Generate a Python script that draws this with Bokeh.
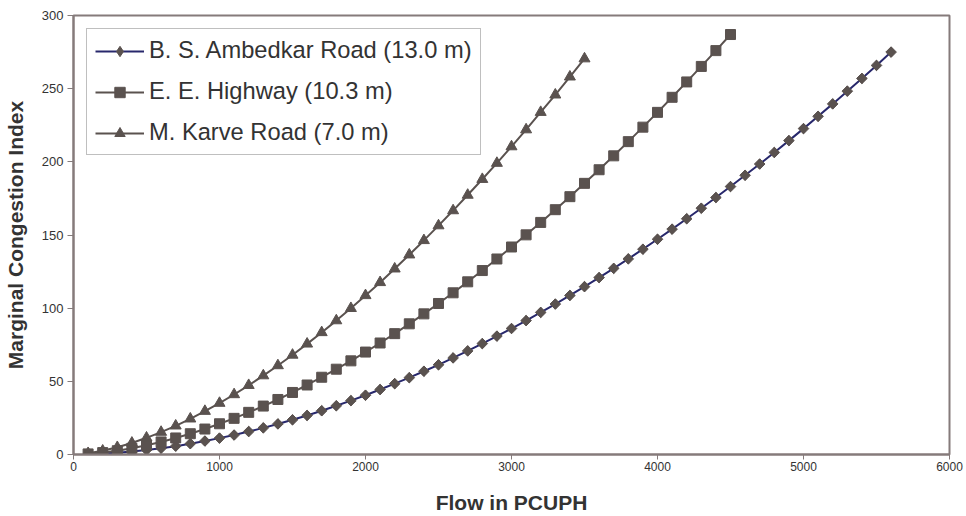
from bokeh.plotting import figure
from bokeh.models import Range1d, FixedTicker, Legend, LegendItem
from bokeh.embed import file_html
from bokeh.resources import INLINE

# ---- data ----
flow_ambedkar = [100, 200, 300, 400, 500, 600, 700, 800, 900, 1000,
                 1100, 1200, 1300, 1400, 1500, 1600, 1700, 1800, 1900, 2000,
                 2100, 2200, 2300, 2400, 2500, 2600, 2700, 2800, 2900, 3000,
                 3100, 3200, 3300, 3400, 3500, 3600, 3700, 3800, 3900, 4000,
                 4100, 4200, 4300, 4400, 4500, 4600, 4700, 4800, 4900, 5000,
                 5100, 5200, 5300, 5400, 5500, 5600]
mci_ambedkar = [0.2, 0.6, 1.2, 2.0, 3.1, 4.3, 5.7, 7.4, 9.2, 11.2,
                13.3, 15.7, 18.2, 20.9, 23.7, 26.7, 29.9, 33.3, 36.8, 40.5,
                44.4, 48.4, 52.5, 56.9, 61.3, 66.0, 70.8, 75.8, 80.9, 86.1,
                91.5, 97.1, 102.8, 108.7, 114.7, 120.9, 127.2, 133.7, 140.3, 147.1,
                154.0, 161.1, 168.3, 175.6, 183.1, 190.8, 198.5, 206.4, 214.5, 222.7,
                231.1, 239.6, 248.3, 257.0, 265.9, 275.0]

flow_highway = [100, 200, 300, 400, 500, 600, 700, 800, 900, 1000,
                1100, 1200, 1300, 1400, 1500, 1600, 1700, 1800, 1900, 2000,
                2100, 2200, 2300, 2400, 2500, 2600, 2700, 2800, 2900, 3000,
                3100, 3200, 3300, 3400, 3500, 3600, 3700, 3800, 3900, 4000,
                4100, 4200, 4300, 4400, 4500]
mci_highway = [0.4, 1.3, 2.6, 4.3, 6.3, 8.6, 11.3, 14.2, 17.4, 21.0,
               24.7, 28.8, 33.1, 37.6, 42.4, 47.5, 52.8, 58.3, 64.0, 70.0,
               76.2, 82.6, 89.3, 96.1, 103.2, 110.5, 118.0, 125.7, 133.6, 141.8,
               150.1, 158.6, 167.3, 176.2, 185.3, 194.6, 204.1, 213.8, 223.7, 233.8,
               244.1, 254.6, 265.2, 276.0, 287.0]

flow_karve = [100, 200, 300, 400, 500, 600, 700, 800, 900, 1000,
              1100, 1200, 1300, 1400, 1500, 1600, 1700, 1800, 1900, 2000,
              2100, 2200, 2300, 2400, 2500, 2600, 2700, 2800, 2900, 3000,
              3100, 3200, 3300, 3400, 3500]
mci_karve = [0.8, 2.5, 4.9, 7.9, 11.4, 15.3, 19.6, 24.4, 29.6, 35.1,
             41.0, 47.3, 53.9, 60.8, 68.0, 75.6, 83.4, 91.5, 99.9, 108.7,
             117.6, 126.9, 136.5, 146.3, 156.4, 166.7, 177.3, 188.1, 199.1, 210.4,
             222.0, 233.9, 245.8, 258.1, 270.5]

series_names = ["B. S. Ambedkar Road (13.0 m)", "E. E. Highway (10.3 m)", "M. Karve Road (7.0 m)"]
x_ticks = [0, 1000, 2000, 3000, 4000, 5000, 6000]
y_ticks = [0, 50, 100, 150, 200, 250, 300]

FONT = "Liberation Sans"
MARK = "#5a524f"
NAVY = "#28286c"
AXIS = "#857b7b"
TEXT = "#333333"

p = figure(width=966, height=516, output_backend="svg", toolbar_location=None,
           x_range=Range1d(0, 6000), y_range=Range1d(0, 300),
           min_border_left=72, min_border_right=17, min_border_top=15, min_border_bottom=62,
           background_fill_color="white", border_fill_color="white")

p.xgrid.visible = False
p.ygrid.visible = False
p.outline_line_color = AXIS
p.outline_line_width = 2

for ax, ticks, fs in ((p.xaxis[0], x_ticks, "12px"), (p.yaxis[0], y_ticks, "13px")):
    ax.ticker = FixedTicker(ticks=ticks)
    ax.axis_line_color = AXIS
    ax.axis_line_width = 2
    ax.major_tick_line_color = AXIS
    ax.major_tick_line_width = 1
    ax.major_tick_out = 5
    ax.major_tick_in = 0
    ax.minor_tick_line_color = None
    ax.major_label_text_font = FONT
    ax.major_label_text_font_size = fs
    ax.major_label_text_color = TEXT
    ax.axis_label_text_font = FONT
    ax.axis_label_text_font_size = "21px"
    ax.axis_label_text_font_style = "bold"
    ax.axis_label_text_color = TEXT

p.xaxis[0].axis_label = "Flow in PCUPH"
p.yaxis[0].axis_label = "Marginal Congestion Index"
p.xaxis[0].major_label_standoff = 2
p.xaxis[0].axis_label_standoff = 17
p.yaxis[0].major_tick_out = 6
p.yaxis[0].major_label_standoff = 4
p.yaxis[0].axis_label_standoff = 12

# series
l1 = p.line(flow_ambedkar, mci_ambedkar, line_color=NAVY, line_width=2)
# diamond marker (used for the legend key; hidden beneath the rotated squares in the plot)
k1 = p.scatter(flow_ambedkar, mci_ambedkar, marker="diamond", size=10,
               fill_color=MARK, line_color=MARK)
s1 = p.scatter(flow_ambedkar, mci_ambedkar, marker="square", angle=0.7854, size=7.5,
               fill_color=MARK, line_color=MARK)

l2 = p.line(flow_highway, mci_highway, line_color=MARK, line_width=2)
s2 = p.scatter(flow_highway, mci_highway, marker="square", size=10,
               fill_color=MARK, line_color=MARK)

l3 = p.line(flow_karve, mci_karve, line_color=MARK, line_width=2)
s3 = p.scatter(flow_karve, mci_karve, marker="triangle", size=11,
               fill_color=MARK, line_color=MARK)

lg = Legend(items=[LegendItem(label=series_names[0], renderers=[l1, k1]),
                   LegendItem(label=series_names[1], renderers=[l2, s2]),
                   LegendItem(label=series_names[2], renderers=[l3, s3])])
lg.location = "top_left"
lg.margin = 13
lg.padding = 8
lg.spacing = 14
lg.glyph_width = 49
lg.glyph_height = 26
lg.label_height = 26
lg.label_standoff = 5
lg.label_text_font = FONT
lg.label_text_font_size = "23.7px"
lg.label_text_color = TEXT
lg.border_line_color = "#7f7f7f"
lg.border_line_width = 1
lg.background_fill_color = "white"
lg.background_fill_alpha = 1.0
p.add_layout(lg, "center")

open("out.html", "w").write(file_html(p, INLINE))
